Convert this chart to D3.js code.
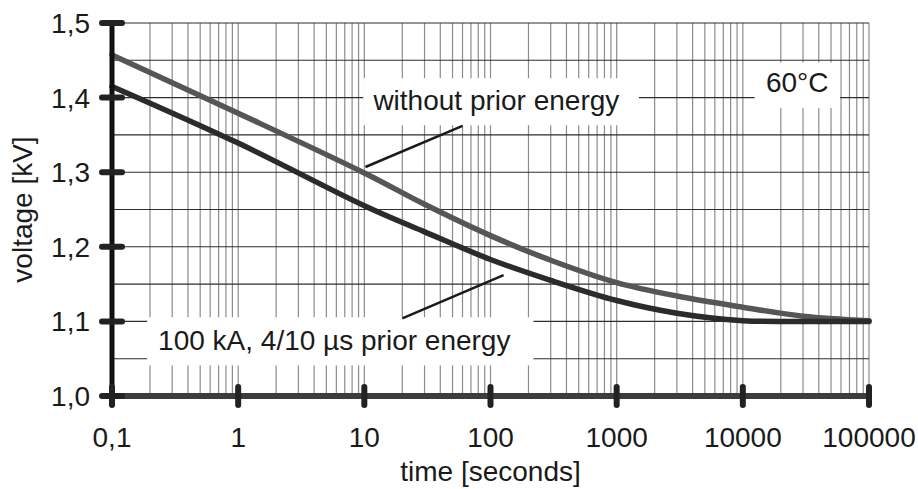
<!DOCTYPE html>
<html>
<head>
<meta charset="utf-8">
<script src="https://cdn.jsdelivr.net/npm/d3@7"></script>
<style>
  html, body { margin: 0; padding: 0; background: #fff; }
  svg text { font-family: "Liberation Sans", Arial, sans-serif; fill: #1a1a1a; }
</style>
</head>
<body>
<div id="chart"></div>
<script>
    // time in seconds (log axis) and voltage in kV
    var timeTicks = [0.1, 1, 10, 100, 1000, 10000, 100000];
    var timeTickLabels = ["0,1", "1", "10", "100", "1000", "10000", "100000"];
    var voltTicks = [1.0, 1.1, 1.2, 1.3, 1.4, 1.5];
    var voltTickLabels = ["1,0", "1,1", "1,2", "1,3", "1,4", "1,5"];

    var curveTimes = [0.1, 1, 10, 30, 100, 300, 1000, 3000, 10000, 30000, 100000];
    var withoutPrior = [1.457, 1.379, 1.299, 1.257, 1.215, 1.182, 1.152, 1.134, 1.119, 1.107, 1.101];
    var withPrior    = [1.415, 1.339, 1.255, 1.220, 1.183, 1.155, 1.128, 1.111, 1.101, 1.100, 1.100];

    var labelWithout = "without prior energy";
    var labelWith = "100 kA, 4/10 µs prior energy";
    var labelTemp = "60°C";

    var w = 918, h = 489;
    var fs = 28;
    var x = d3.scaleLog().domain([0.1, 100000]).range([112, 869]);
    var y = d3.scaleLinear().domain([1.0, 1.5]).range([396, 23]);

    var svg = d3.select("#chart").append("svg")
                .attr("width", w)
                .attr("height", h);

    // vertical grid (2..9 per decade plus decades)
    var vLines = [];
    timeTicks.forEach(function (d) {
        if (d > 0.1) vLines.push(d);
        if (d < 100000) {
            for (var k = 2; k <= 9; k++) vLines.push(d * k);
        }
    });
    svg.append("g").selectAll("line")
       .data(vLines).enter().append("line")
       .attr("x1", function (d) { return x(d); })
       .attr("x2", function (d) { return x(d); })
       .attr("y1", y(1.5)).attr("y2", y(1.0))
       .attr("stroke", "#8c8c8c").attr("stroke-width", 1.2);

    // horizontal grid every 0.05
    var hLines = d3.range(1.05, 1.501, 0.05);
    svg.append("g").selectAll("line")
       .data(hLines).enter().append("line")
       .attr("x1", x(0.1)).attr("x2", x(100000))
       .attr("y1", function (d) { return y(d); })
       .attr("y2", function (d) { return y(d); })
       .attr("stroke", "#2e2e2e").attr("stroke-width", 1.1);

    // white label boxes that interrupt the grid
    var boxes = [
        { t0: 9.8, t1: 1500, v0: 1.363, v1: 1.426 },
        { t0: 12400, t1: 59000, v0: 1.386, v1: 1.447 },
        { t0: 0.19, t1: 219, v0: 1.041, v1: 1.1055 }
    ];
    svg.append("g").selectAll("rect")
       .data(boxes).enter().append("rect")
       .attr("x", function (d) { return x(d.t0); })
       .attr("y", function (d) { return y(d.v1); })
       .attr("width", function (d) { return x(d.t1) - x(d.t0); })
       .attr("height", function (d) { return y(d.v0) - y(d.v1); })
       .attr("fill", "#fff");

    // curves
    var line = d3.line()
        .x(function (d) { return x(d[0]); })
        .y(function (d) { return y(d[1]); })
        .curve(d3.curveCatmullRom.alpha(0.5));

    svg.append("path")
       .datum(d3.zip(curveTimes, withoutPrior))
       .attr("d", line)
       .attr("fill", "none")
       .attr("stroke", "#565656")
       .attr("stroke-width", 5.5)
       .attr("stroke-linecap", "round");

    svg.append("path")
       .datum(d3.zip(curveTimes, withPrior))
       .attr("d", line)
       .attr("fill", "none")
       .attr("stroke", "#2b2b2b")
       .attr("stroke-width", 5.5)
       .attr("stroke-linecap", "round");

    // leader lines
    var leaders = [
        { t0: 10.2, v0: 1.307, t1: 60, v1: 1.362 },
        { t0: 20, v0: 1.104, t1: 127, v1: 1.162 }
    ];
    svg.append("g").selectAll("line")
       .data(leaders).enter().append("line")
       .attr("x1", function (d) { return x(d.t0); })
       .attr("y1", function (d) { return y(d.v0); })
       .attr("x2", function (d) { return x(d.t1); })
       .attr("y2", function (d) { return y(d.v1); })
       .attr("stroke", "#1a1a1a").attr("stroke-width", 2.5);

    // labels
    svg.append("text")
       .attr("x", x(11.8)).attr("y", y(1.383))
       .attr("font-size", fs)
       .text(labelWithout);
    svg.append("text")
       .attr("x", x(27000)).attr("y", y(1.4075))
       .attr("text-anchor", "middle")
       .attr("font-size", fs)
       .text(labelTemp);
    svg.append("text")
       .attr("x", x(0.232)).attr("y", y(1.0617))
       .attr("font-size", fs)
       .text(labelWith);

    // axes
    svg.append("line")
       .attr("x1", x(0.1)).attr("x2", x(0.1))
       .attr("y1", y(1.5)).attr("y2", y(1.0) + 8)
       .attr("stroke", "#111").attr("stroke-width", 5);
    svg.append("line")
       .attr("x1", x(0.1) - 9).attr("x2", x(100000))
       .attr("y1", y(1.0)).attr("y2", y(1.0))
       .attr("stroke", "#3c3c3c").attr("stroke-width", 6);

    svg.append("g").selectAll("line")
       .data(voltTicks).enter().append("line")
       .attr("x1", x(0.1) - 10).attr("x2", x(0.1) + 10)
       .attr("y1", function (d) { return y(d); })
       .attr("y2", function (d) { return y(d); })
       .attr("stroke", "#222").attr("stroke-width", 6)
       .attr("stroke-linecap", "round");

    svg.append("g").selectAll("line")
       .data(timeTicks).enter().append("line")
       .attr("x1", function (d) { return x(d); })
       .attr("x2", function (d) { return x(d); })
       .attr("y1", y(1.0) - 9).attr("y2", y(1.0) + 9)
       .attr("stroke", "#222").attr("stroke-width", 6)
       .attr("stroke-linecap", "round");

    // tick labels
    svg.append("g").selectAll("text")
       .data(voltTicks).enter().append("text")
       .attr("x", 90)
       .attr("y", function (d) { return y(d); })
       .attr("dy", "0.36em")
       .attr("text-anchor", "end")
       .attr("font-size", fs)
       .text(function (d, i) { return voltTickLabels[i]; });

    svg.append("g").selectAll("text")
       .data(timeTicks).enter().append("text")
       .attr("x", function (d) { return x(d); })
       .attr("y", 447)
       .attr("text-anchor", "middle")
       .attr("font-size", fs)
       .text(function (d, i) { return timeTickLabels[i]; });

    // axis titles
    svg.append("text")
       .attr("x", x(100)).attr("y", 481)
       .attr("text-anchor", "middle")
       .attr("font-size", fs)
       .text("time [seconds]");
    svg.append("text")
       .attr("transform", "translate(32," + y(1.25) + ") rotate(-90)")
       .attr("text-anchor", "middle")
       .attr("font-size", fs)
       .text("voltage [kV]");
</script>
</body>
</html>
